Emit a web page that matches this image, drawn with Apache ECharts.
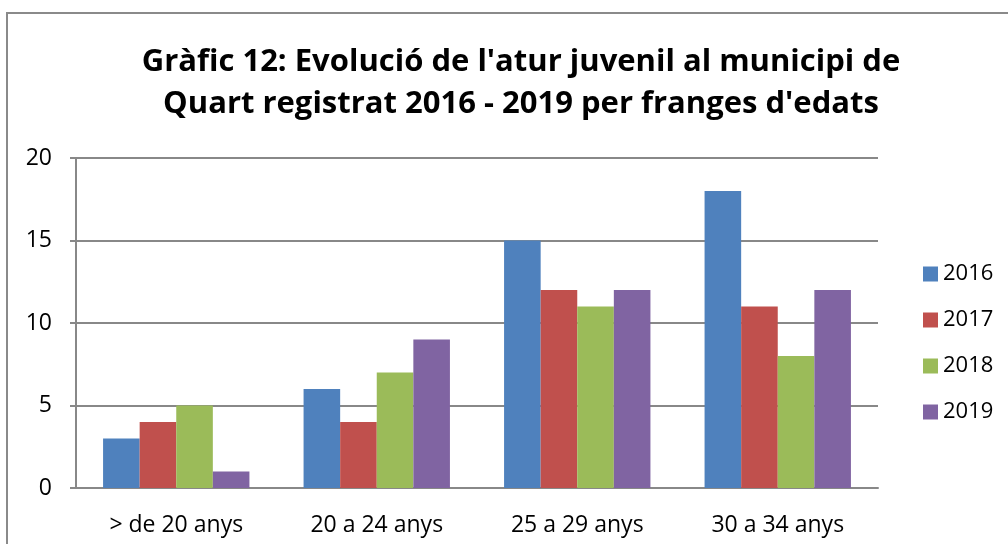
<!DOCTYPE html>
<html>
<head>
<meta charset="utf-8">
<script src="https://cdn.jsdelivr.net/npm/echarts@6/dist/echarts.min.js"></script>
<style>
  html, body { margin: 0; padding: 0; background: #fff; }
  #chart { width: 1008px; height: 544px; }
</style>
</head>
<body>
<div id="chart"></div>
<script>
const categories = ['> de 20 anys', '20 a 24 anys', '25 a 29 anys', '30 a 34 anys'];
const years = ['2016', '2017', '2018', '2019'];
const values2016 = [3, 6, 15, 18];
const values2017 = [4, 4, 12, 11];
const values2018 = [5, 7, 11, 8];
const values2019 = [1, 9, 12, 12];
const colors = ['#4F81BD', '#C0504D', '#9BBB59', '#8064A2'];

const font = '"Open Sans", "Noto Sans", sans-serif';
const allValues = [values2016, values2017, values2018, values2019];

const chart = echarts.init(document.getElementById('chart'));
chart.setOption({
  color: colors,
  animation: false,
  textStyle: { fontFamily: font },
  title: {
    text: "Gràfic 12: Evolució de l'atur juvenil al municipi de\nQuart registrat 2016 - 2019 per franges d'edats",
    left: 516,
    top: 36,
    textAlign: 'center',
    textStyle: { fontSize: 31, fontWeight: 'bold', color: '#000', lineHeight: 42, fontFamily: font }
  },
  graphic: [{
    type: 'rect',
    shape: { x: 7, y: 13, width: 1010, height: 540 },
    style: { fill: 'none', stroke: '#8a8a8a', lineWidth: 2 },
    silent: true
  }],
  legend: {
    orient: 'vertical',
    left: 918,
    top: 258,
    itemWidth: 15,
    itemHeight: 15,
    itemGap: 24,
    icon: 'rect',
    textStyle: { fontSize: 22, color: '#000', fontFamily: font },
    data: years
  },
  grid: { left: 76, right: 130, top: 158, bottom: 56 },
  xAxis: {
    type: 'category',
    data: categories,
    axisLine: { lineStyle: { color: '#888', width: 2 } },
    axisTick: { show: false },
    axisLabel: { fontSize: 23, color: '#000', margin: 26 }
  },
  yAxis: {
    type: 'value',
    min: 0,
    max: 20,
    interval: 5,
    axisLine: { show: true, lineStyle: { color: '#888', width: 2 } },
    axisTick: { show: true, length: 6, lineStyle: { color: '#888', width: 2 } },
    axisLabel: { fontSize: 23, color: '#000', margin: 24 },
    splitLine: { lineStyle: { color: '#888', width: 2 } }
  },
  series: years.map((y, i) => ({
    name: y,
    type: 'bar',
    data: allValues[i],
    barGap: '0%',
    barCategoryGap: '27%',
    itemStyle: { color: colors[i] }
  }))
});
</script>
</body>
</html>
